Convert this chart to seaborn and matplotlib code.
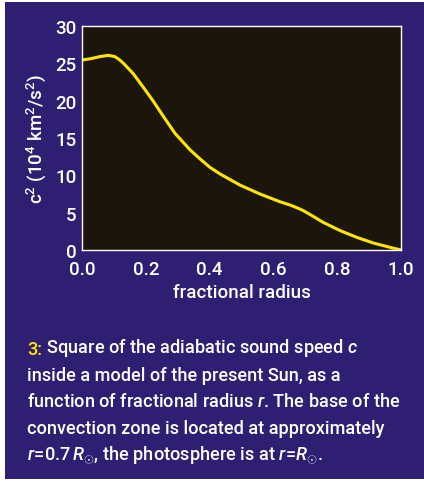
import matplotlib
matplotlib.use("Agg")
import matplotlib.pyplot as plt
import seaborn as sns
import pandas as pd
from matplotlib.patches import Rectangle

radius = [0.0, 0.025, 0.056, 0.083, 0.103, 0.117, 0.13, 0.161, 0.192, 0.224, 0.255,
          0.292, 0.307, 0.339, 0.37, 0.401, 0.433, 0.495, 0.558, 0.62, 0.652,
          0.678, 0.694, 0.725, 0.756, 0.809, 0.861, 0.913, 0.966, 1.0]
c2 = [25.45, 25.6, 25.9, 26.07, 25.9, 25.5, 25.0, 23.6, 21.8, 19.9, 17.9,
      15.6, 14.9, 13.4, 12.2, 11.07, 10.18, 8.7, 7.5, 6.47, 6.03,
      5.58, 5.27, 4.5, 3.7, 2.6, 1.7, 0.94, 0.35, 0.0]
xticks = [0.0, 0.2, 0.4, 0.6, 0.8, 1.0]
xticklabels = ["0.0", "0.2", "0.4", "0.6", "0.8", "1.0"]
yticks = [0, 5, 10, 15, 20, 25, 30]

BLUE = "#2e1f72"
PLOTBG = "#1c150c"
YELLOW = "#ffe600"
FONT = ["Roboto", "DejaVu Sans"]
WT = "medium"

sns.set_style("white")
plt.rcParams["font.family"] = FONT
plt.rcParams["font.weight"] = WT
plt.rcParams["mathtext.fontset"] = "custom"
plt.rcParams["mathtext.rm"] = "Roboto:medium"
plt.rcParams["mathtext.it"] = "Roboto:italic:medium"
plt.rcParams["mathtext.bf"] = "Roboto:bold"

W, H = 424, 489
fig = plt.figure(figsize=(W / 100, H / 100), dpi=100)
fig.patch.set_facecolor("white")
fig.patches.append(Rectangle((5 / W, (H - 480) / H), 1 - 5 / W, 477 / H,
                             transform=fig.transFigure, facecolor=BLUE,
                             edgecolor="none", zorder=-10))

ax = fig.add_axes([82 / W, (H - 251) / H, (401 - 82) / W, (251 - 27) / H])
ax.set_facecolor(PLOTBG)

df = pd.DataFrame({"r": radius, "c2": c2})
sns.lineplot(data=df, x="r", y="c2", ax=ax, color=YELLOW, linewidth=2.2,
             solid_joinstyle="round", solid_capstyle="round")

ax.set_xlim(0, 1.0)
ax.set_ylim(0, 30)
ax.set_xticks(xticks)
ax.set_xticklabels(xticklabels)
ax.set_yticks(yticks)
for s in ax.spines.values():
    s.set_color("white")
    s.set_linewidth(1.0)
ax.tick_params(colors="white", labelsize=13.5, length=0)
ax.tick_params(axis="x", pad=7.5)
ax.tick_params(axis="y", pad=4)
ax.set_xlabel("fractional radius", color="white", fontsize=13.5, labelpad=3,
              fontweight=WT)
ax.set_ylabel(r"c$^2$ (10$^4$ km$^2$/s$^2$)", color="white", fontsize=13.5,
              labelpad=5, fontweight=WT)

fs = 13.1
x0 = 27 / W
def ypos(px):
    return (H - px) / H

t = fig.text(x0, ypos(355), "3:", color=YELLOW, fontsize=fs, va="baseline",
             fontweight=WT)
ax.annotate(r" Square of the adiabatic sound speed $c$", xy=(1, 0), xycoords=t,
            va="bottom", ha="left", color="white", fontsize=fs, fontweight=WT)
lines = [
    "inside a model of the present Sun, as a",
    r"function of fractional radius $r$. The base of the",
    "convection zone is located at approximately",
    r"$r\!=\!0.7\,R_{\odot}$, the photosphere is at $r\!=\!R_{\odot}$.",
]
for i, ln in enumerate(lines):
    fig.text(x0, ypos(381 + i * 26.3), ln, color="white", fontsize=fs,
             va="baseline", fontweight=WT)

fig.savefig("out.png", dpi=100, facecolor=fig.get_facecolor())
